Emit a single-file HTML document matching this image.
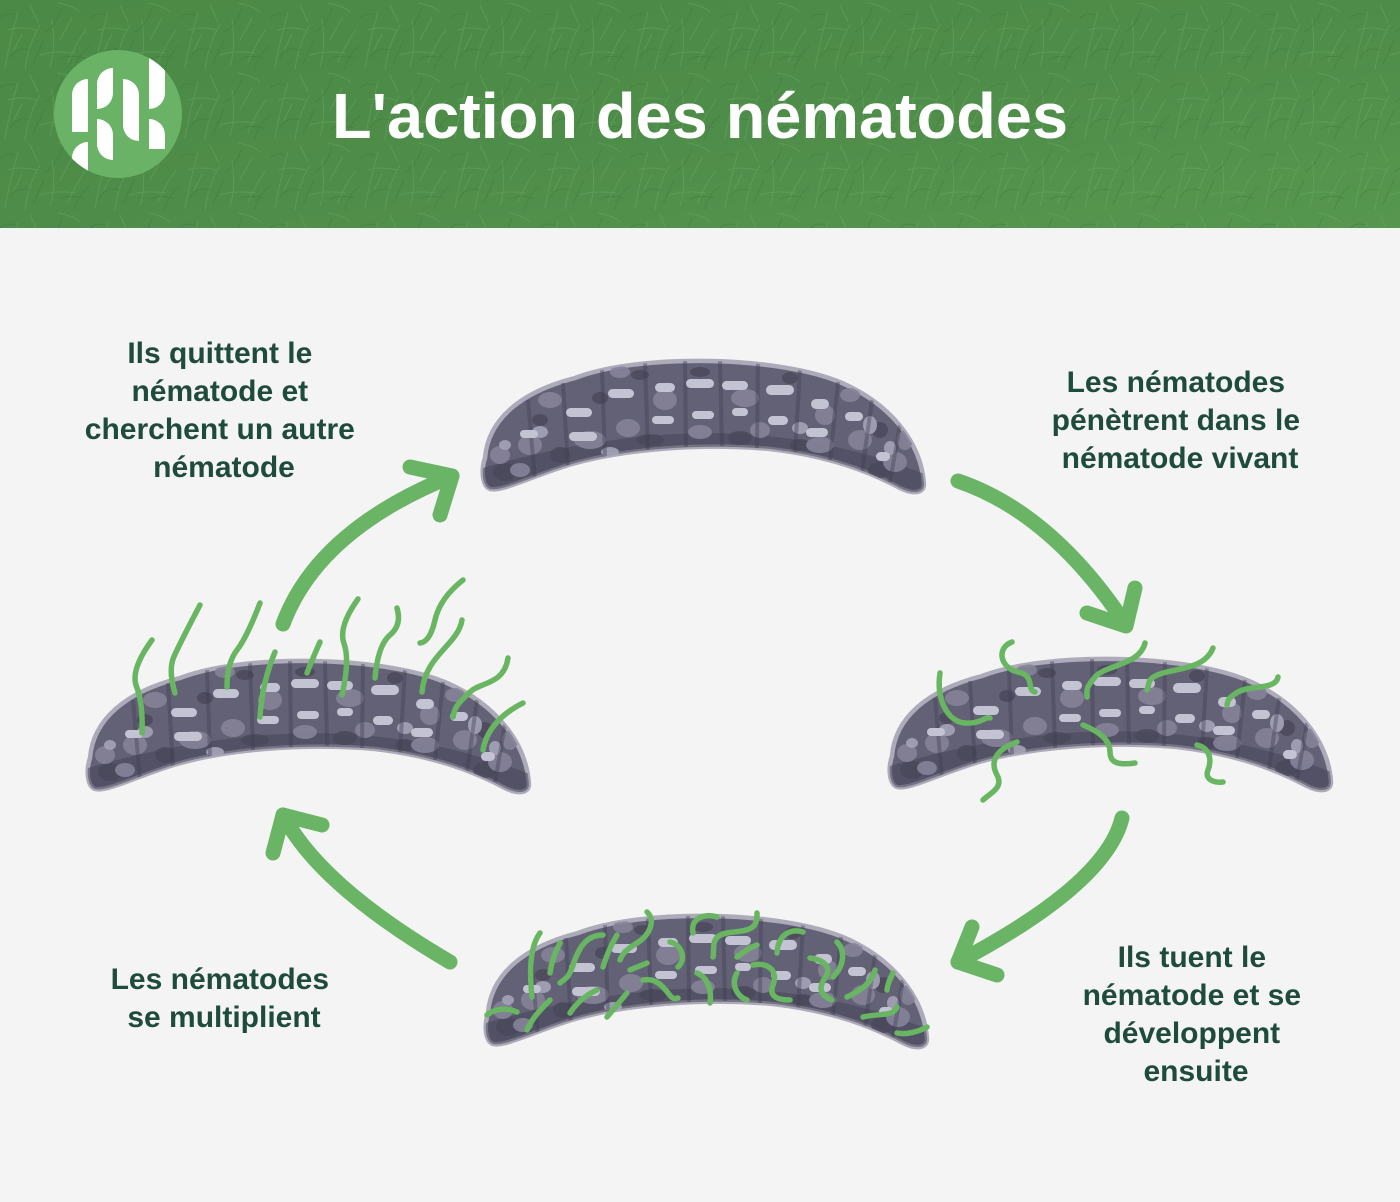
<!DOCTYPE html>
<html>
<head>
<meta charset="utf-8">
<style>
  html,body{margin:0;padding:0;background:#f4f4f4;}
  svg{display:block;}
  .lbl{font-family:"Liberation Sans",sans-serif;font-weight:bold;font-size:30px;fill:#1f4b3c;text-anchor:middle;}
  .nem{fill:none;stroke:#68b562;stroke-width:5.5;stroke-linecap:round;stroke-linejoin:round;}
  .arr{fill:none;stroke:#69b565;stroke-width:15;stroke-linecap:round;stroke-linejoin:round;}
</style>
</head>
<body>
<svg width="1400" height="1202" viewBox="0 0 1400 1202" xmlns="http://www.w3.org/2000/svg">
  <defs>
    <pattern id="grass" x="0" y="0" width="90" height="70" patternUnits="userSpaceOnUse">
      <g fill="none" stroke-linecap="round">
        <g stroke="#6aab60" stroke-width="1" opacity="0.45">
          <path d="M5 68 Q10 40 18 12"/>
          <path d="M25 70 Q28 45 40 25"/>
          <path d="M50 66 Q56 48 52 20"/>
          <path d="M68 62 Q78 40 86 30"/>
          <path d="M8 30 Q20 26 36 30"/>
          <path d="M40 55 Q55 50 75 53"/>
          <path d="M80 12 Q74 6 58 3"/>
          <path d="M30 5 L38 22"/>
          <path d="M60 40 L72 18"/>
          <path d="M14 50 L22 34"/>
        </g>
        <g stroke="#3e7439" stroke-width="1" opacity="0.45">
          <path d="M10 58 Q16 46 30 50"/>
          <path d="M45 32 Q56 26 62 8"/>
          <path d="M74 70 Q80 52 90 46"/>
          <path d="M0 18 Q6 12 15 15"/>
          <path d="M33 64 L44 40"/>
          <path d="M60 60 Q66 54 84 58"/>
        </g>
      </g>
    </pattern>
    <linearGradient id="hg" x1="0" y1="0" x2="1" y2="1">
      <stop offset="0" stop-color="#4b8946"/>
      <stop offset="0.5" stop-color="#4e8c49"/>
      <stop offset="1" stop-color="#56974f"/>
    </linearGradient>
    <clipPath id="lc"><circle cx="118" cy="114" r="64"/></clipPath>
    <clipPath id="gc">
      <path d="M490 489 C482 486,481 470,485 458 C488 420,520 392,575 378 C640 353,780 356,842 383 C890 404,921 442,924 484 C924 494,912 494,900 488 C870 472,830 456,770 449 C700 443,625 449,572 464 C532 476,502 492,490 489 Z"/>
    </clipPath>
    <g id="grub">
      <path d="M490 489 C482 486,481 470,485 458 C488 420,520 392,575 378 C640 353,780 356,842 383 C890 404,921 442,924 484 C924 494,912 494,900 488 C870 472,830 456,770 449 C700 443,625 449,572 464 C532 476,502 492,490 489 Z" fill="#636175" stroke="#adabb9" stroke-width="4.5" stroke-linejoin="round"/>
      <g clip-path="url(#gc)">
        <path d="M470 510 L470 472 C540 450,620 435,700 433 C790 433,860 448,935 478 L935 510 Z" fill="#474558" opacity="0.55"/>
        <g fill="#4a485b" opacity="0.8">
          <ellipse cx="505" cy="472" rx="12" ry="9"/>
          <ellipse cx="560" cy="455" rx="10" ry="8"/>
          <ellipse cx="650" cy="440" rx="14" ry="6"/>
          <ellipse cx="740" cy="438" rx="12" ry="7"/>
          <ellipse cx="800" cy="445" rx="10" ry="6"/>
          <ellipse cx="880" cy="470" rx="12" ry="8"/>
          <ellipse cx="600" cy="398" rx="8" ry="6"/>
          <ellipse cx="700" cy="372" rx="10" ry="5"/>
          <ellipse cx="790" cy="378" rx="8" ry="6"/>
          <ellipse cx="880" cy="430" rx="8" ry="8"/>
          <ellipse cx="540" cy="420" rx="8" ry="6"/>
          <ellipse cx="640" cy="375" rx="9" ry="5"/>
        </g>
        <g fill="#85839a" opacity="0.9">
          <ellipse cx="500" cy="455" rx="10" ry="9"/>
          <ellipse cx="530" cy="445" rx="12" ry="10"/>
          <ellipse cx="550" cy="400" rx="12" ry="8"/>
          <ellipse cx="590" cy="440" rx="16" ry="9"/>
          <ellipse cx="628" cy="428" rx="12" ry="9"/>
          <ellipse cx="665" cy="400" rx="12" ry="10"/>
          <ellipse cx="700" cy="432" rx="12" ry="7"/>
          <ellipse cx="745" cy="398" rx="14" ry="9"/>
          <ellipse cx="760" cy="430" rx="10" ry="8"/>
          <ellipse cx="820" cy="445" rx="14" ry="8"/>
          <ellipse cx="825" cy="415" rx="10" ry="10"/>
          <ellipse cx="860" cy="440" rx="12" ry="10"/>
          <ellipse cx="895" cy="462" rx="12" ry="10"/>
          <ellipse cx="905" cy="440" rx="8" ry="10"/>
          <ellipse cx="620" cy="372" rx="10" ry="6"/>
          <ellipse cx="850" cy="395" rx="10" ry="7"/>
          <ellipse cx="520" cy="470" rx="10" ry="7"/>
        </g>
        <g fill="#a5a3b8" opacity="0.9">
          <ellipse cx="540" cy="432" rx="8" ry="6"/>
          <ellipse cx="610" cy="452" rx="9" ry="5"/>
          <ellipse cx="870" cy="425" rx="7" ry="9"/>
          <ellipse cx="890" cy="448" rx="6" ry="7"/>
          <ellipse cx="800" cy="428" rx="8" ry="6"/>
          <ellipse cx="505" cy="445" rx="6" ry="5"/>
        </g>
        <g stroke="#424053" stroke-width="4" opacity="0.4" fill="none">
          <path d="M528 400 L535 480"/>
          <path d="M563 383 L568 468"/>
          <path d="M602 370 L605 458"/>
          <path d="M645 362 L648 450"/>
          <path d="M685 360 L686 447"/>
          <path d="M720 360 L722 446"/>
          <path d="M758 362 L757 448"/>
          <path d="M800 370 L795 452"/>
          <path d="M838 382 L830 460"/>
          <path d="M872 400 L862 472"/>
          <path d="M900 425 L890 482"/>
        </g>
        <g fill="#c4c3d3">
          <rect x="566" y="408" width="26" height="9" rx="4.5"/>
          <rect x="608" y="389" width="26" height="9" rx="4.5"/>
          <rect x="655" y="383" width="20" height="9" rx="4.5"/>
          <rect x="686" y="379" width="28" height="9" rx="4.5"/>
          <rect x="722" y="381" width="26" height="9" rx="4.5"/>
          <rect x="766" y="385" width="28" height="10" rx="5"/>
          <rect x="811" y="399" width="18" height="10" rx="5"/>
          <rect x="845" y="412" width="18" height="9" rx="4.5"/>
          <rect x="569" y="432" width="28" height="9" rx="4.5"/>
          <rect x="652" y="416" width="22" height="8" rx="4"/>
          <rect x="692" y="411" width="22" height="8" rx="4"/>
          <rect x="732" y="408" width="16" height="8" rx="4"/>
          <rect x="768" y="416" width="20" height="9" rx="4.5"/>
          <rect x="806" y="428" width="22" height="9" rx="4.5"/>
          <rect x="876" y="452" width="14" height="9" rx="4.5"/>
          <rect x="520" y="430" width="18" height="8" rx="4"/>
        </g>
      </g>
    </g>
  </defs>

  <!-- Header -->
  <rect x="0" y="0" width="1400" height="228" fill="url(#hg)"/>
  <rect x="0" y="0" width="1400" height="228" fill="url(#grass)"/>
  <rect x="0" y="228" width="1400" height="974" fill="#f4f4f4"/>

  <!-- Logo -->
  <circle cx="118" cy="114" r="64" fill="#6ab366"/>
  <g clip-path="url(#lc)" fill="#ffffff">
    <path d="M72 95 A16 16 0 0 1 88 79 L88 132 L72 132 Z"/>
    <path d="M72 158 A16 16 0 0 1 88 142 L88 190 L72 190 Z"/>
    <path d="M97 109 L97 84 A16 16 0 0 1 113 68 L113 93 A16 16 0 0 1 97 109 Z"/>
    <path d="M97 119 A16 16 0 0 1 113 135 L113 160 A16 16 0 0 1 97 144 Z"/>
    <path d="M123 79 A16 16 0 0 1 139 95 L139 141 A16 16 0 0 1 123 125 Z"/>
    <path d="M149 40 L165 40 L165 93 A16 16 0 0 1 149 109 Z"/>
    <path d="M149 149 L149 119 A16 16 0 0 1 165 135 L165 149 Z"/>
  </g>

  <!-- Title -->
  <text x="332" y="138" font-family="Liberation Sans, sans-serif" font-weight="bold" font-size="64" fill="#ffffff" textLength="736" lengthAdjust="spacingAndGlyphs">L'action des nématodes</text>

  <!-- Grubs -->
  <use href="#grub"/>
  <use href="#grub" transform="translate(407,298)"/>
  <use href="#grub" transform="translate(-395,300)"/>
  <use href="#grub" transform="translate(3,555)"/>

  <!-- Left grub nematodes -->
  <g class="nem">
    <path d="M152 640 Q130 670 136.5 686.5 T142 733"/>
    <path d="M200 605 Q180 643 174 656.5 T175 693"/>
    <path d="M260 603 Q247 637 237 650 T227 687"/>
    <path d="M275 652 Q262 683 260 717"/>
    <path d="M320 642 Q312 660 307 673"/>
    <path d="M358 599 Q338 627 344 643.5 T342 695"/>
    <path d="M397 608 Q402 625 390 635 T375 678"/>
    <path d="M463 580 Q440 598 435 620 T420 643"/>
    <path d="M462 620 C458 645,425 655,422 692"/>
    <path d="M508 658 C504 685,480 682,470 692 S455 705 453 717"/>
    <path d="M523 703 C505 712,487 727,483 750"/>
  </g>

  <!-- Right grub nematodes -->
  <g class="nem">
    <path d="M940 673 C936 700,948 722,965 723 S985 716 990 718"/>
    <path d="M1012 642 C996 648,1000 668,1018 672 S1026 690 1035 692"/>
    <path d="M1145 643 C1140 665,1105 665,1095 677 S1087 690 1087 697"/>
    <path d="M1213 648 C1205 668,1180 668,1163 673 S1150 683 1147 690"/>
    <path d="M1278 677 C1276 690,1250 685,1238 692 S1228 702 1227 705"/>
    <path d="M1017 742 C995 750,990 762,997 775 S990 793 983 800"/>
    <path d="M1083 725 C1100 732,1110 740,1110 752 S1120 765 1135 763"/>
    <path d="M1197 745 C1210 748,1212 760,1208 770 S1215 783 1223 782"/>
  </g>

  <!-- Bottom grub nematodes -->
  <g class="nem">
    <path d="M540 933 Q527 950 532 997"/>
    <path d="M560 943 Q552 958 550 973"/>
    <path d="M603 935 C585 935,578 950,573 965 S565 978 560 983"/>
    <path d="M617 935 Q608 950 603 967"/>
    <path d="M647 912 C656 920,650 935,637 943 S622 955 620 960"/>
    <path d="M630 970 L647 963"/>
    <path d="M670 942 C683 945,686 960,678 967"/>
    <path d="M693 933 C690 918,705 913,717 917"/>
    <path d="M757 913 C758 932,745 930,727 933 S715 950 713 957"/>
    <path d="M737 957 Q748 948 757 945"/>
    <path d="M803 932 C790 928,778 935,777 953"/>
    <path d="M837 942 C845 950,845 965,833 977"/>
    <path d="M810 958 C825 960,832 968,825 978 S820 995 832 1000"/>
    <path d="M875 970 C872 982,862 990,847 997"/>
    <path d="M893 973 Q888 982 887 990"/>
    <path d="M897 1007 C893 1017,880 1013,863 1017"/>
    <path d="M927 1027 C918 1032,905 1035,897 1033"/>
    <path d="M737 973 C730 985,738 997,747 1000"/>
    <path d="M753 965 C770 962,778 972,773 985 S780 1000 790 1000"/>
    <path d="M697 973 C708 978,712 990,710 1003"/>
    <path d="M643 980 C655 978,662 985,668 993 S675 998 678 998"/>
    <path d="M627 993 L607 1017"/>
    <path d="M597 990 C585 995,575 1005,570 1013"/>
    <path d="M550 1000 C542 1008,532 1018,527 1030"/>
    <path d="M487 1015 C495 1008,508 1008,517 1012"/>
  </g>

  <!-- Arrows -->
  <g class="arr">
    <path d="M283 624 Q318 530 452 476"/>
    <path d="M410 467 L452 476 L440 515"/>
    <path d="M958 481 Q1052 513 1126 625"/>
    <path d="M1087 613 L1126 626 L1135 588"/>
    <path d="M1122 818 Q1106 884 958 962"/>
    <path d="M972 927 L958 962 L997 975"/>
    <path d="M450 962 Q320 886 283 815"/>
    <path d="M322 825 L283 815 L273 853"/>
  </g>

  <!-- Labels -->
  <text class="lbl">
    <tspan x="224" y="363">Ils quittent le</tspan>
    <tspan x="224" y="401">nématode et</tspan>
    <tspan x="224" y="439">cherchent un autre</tspan>
    <tspan x="224" y="477">nématode</tspan>
  </text>
  <text class="lbl">
    <tspan x="1180" y="392">Les nématodes</tspan>
    <tspan x="1180" y="430">pénètrent dans le</tspan>
    <tspan x="1180" y="468">nématode vivant</tspan>
  </text>
  <text class="lbl">
    <tspan x="1196" y="967">Ils tuent le</tspan>
    <tspan x="1196" y="1005">nématode et se</tspan>
    <tspan x="1196" y="1043">développent</tspan>
    <tspan x="1196" y="1081">ensuite</tspan>
  </text>
  <text class="lbl">
    <tspan x="224" y="989">Les nématodes</tspan>
    <tspan x="224" y="1027">se multiplient</tspan>
  </text>
</svg>
</body>
</html>
